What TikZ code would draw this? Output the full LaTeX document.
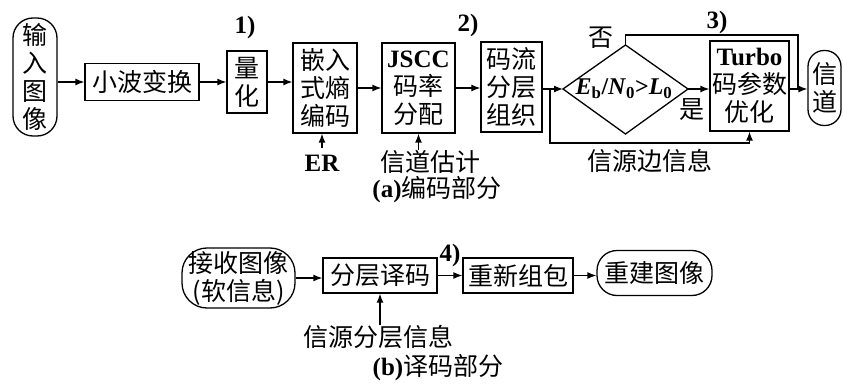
\documentclass[tikz,border=0pt]{standalone}
\usepackage{fontspec}
\setmainfont{Liberation Serif}
\newfontfamily\cjk{Noto Sans CJK SC}
\usetikzlibrary{arrows.meta}
\newcommand{\lat}[1]{{\rmfamily\bfseries #1}}
\begin{document}
\begin{tikzpicture}[x=1pt,y=-1pt,
  every node/.style={font=\fontsize{25}{28}\selectfont\cjk, inner sep=0pt, align=center},
  box/.style={draw, line width=1.3pt},
  term/.style={draw, line width=1.3pt},
  ln/.style={line width=1.3pt},
  arr/.style={ln, -{Latex[length=9pt,width=7pt]}},
  lab/.style={font=\fontsize{25}{28}\selectfont\rmfamily\bfseries}
]
\useasboundingbox (0,0) rectangle (843,385);

% encoder
\node[term, rounded corners=20pt, minimum width=44pt, minimum height=118pt] (in) at (35,77) {输\\入\\图\\像};
\node[box, minimum width=114pt, minimum height=37pt] (wave) at (142,82) {小波变换};
\node[box, minimum width=40pt, minimum height=62pt] (quant) at (247,82) {量\\化};
\node[box, minimum width=64pt, minimum height=90pt] (emb) at (325,88) {嵌入\\式熵\\编码};
\node[box, minimum width=73pt, minimum height=90pt] (jscc) at (418.5,88) {\lat{JSCC}\\码率\\分配};
\node[box, minimum width=61pt, minimum height=90pt] (stream) at (511.5,87) {码流\\分层\\组织};
\coordinate (dl) at (563,89);
\coordinate (dt) at (625.5,45);
\coordinate (dr) at (688,89);
\coordinate (db) at (625.5,134);
\draw[ln] (dl) -- (dt) -- (dr) -- (db) -- cycle;
\node[font=\fontsize{24}{28}\selectfont\rmfamily\bfseries] (cond) at (624,89) {\textit{E}\textsubscript{b}/\textit{N}\textsubscript{0}>\textit{L}\textsubscript{0}};
\node[box, minimum width=79pt, minimum height=90pt] (turbo) at (749.5,86) {\lat{Turbo}\\码参数\\优化};
\node[term, rounded corners=16pt, minimum width=33pt, minimum height=75pt] (chan) at (824.5,88) {信\\道};

\draw[arr] (in.east |- wave) -- (wave.west);
\draw[arr] (wave.east) -- (wave.east -| quant.west);
\draw[arr] (quant.east) -- (quant.east -| emb.west);
\draw[arr] (emb.east) -- (emb.east -| jscc.west);
\draw[arr] (jscc.east) -- (jscc.east -| stream.west);
\draw[arr] (stream.east |- dl) -- (dl);
\draw[arr] (dr) -- (dr -| turbo.west);
\draw[arr] (turbo.east |- dr) -- (chan.west |- dr);
\coordinate (merge) at (798,89);
\draw[ln] (dt) -- ++(0,-10) -| (merge);
\coordinate (split) at (550,89);
\coordinate (sbot) at (550,143);
\draw[arr] (split) -- (sbot) -| (turbo.south);

\node (no) at (601,38) {否};
\node (yes) at (692,110) {是};
\node (side) at (650,161) {信源边信息};

\node[lab] (er) at (322,163) {ER};
\draw[arr] ([yshift=7pt]er.north) -- (er.north |- emb.south);
\node (ce) at (430,162) {信道估计};
\draw[arr] (ce.north -| jscc.south) -- (jscc.south);

\node[lab] (l1) at (245,27) {1)};
\node[lab] (l2) at (468,25) {2)};
\node[lab] (l3) at (717,22) {3)};
\node (capa) at (437,190) {\lat{(a)}编码部分};

% decoder
\node[term, rounded corners=25pt, minimum width=113pt, minimum height=60pt] (rx) at (238.5,278) {接收图像\\(软信息)};
\node[box, minimum width=114pt, minimum height=35pt] (dec) at (380,275.5) {分层译码};
\node[box, minimum width=110pt, minimum height=35pt] (pack) at (518,275.5) {重新组包};
\node[term, rounded corners=20pt, minimum width=115pt, minimum height=45pt] (rec) at (654.5,273) {重建图像};
\draw[arr] (rx.east) -- (rx.east -| dec.west);
\draw[arr] (dec.east) -- (dec.east -| pack.west);
\draw[arr] (pack.east) -- (pack.east -| rec.west);
\node (si) at (378,337) {信源分层信息};
\draw[arr] (si.north -| dec.south) -- (dec.south);
\node[lab] (l4) at (450,255) {4)};
\node (capb) at (438,368) {\lat{(b)}译码部分};
\end{tikzpicture}
\end{document}
